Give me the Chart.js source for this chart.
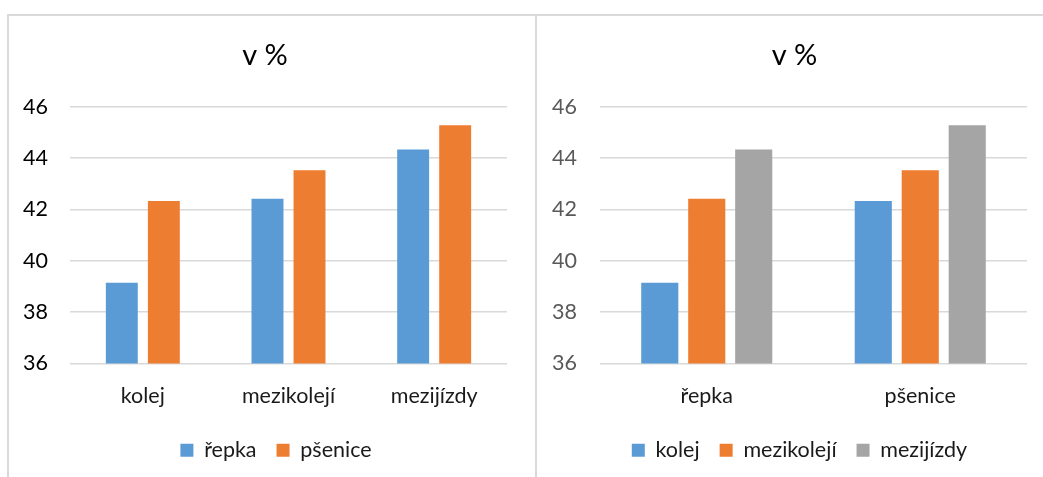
<!DOCTYPE html>
<html>
<head>
<meta charset="utf-8">
<script src="https://cdn.jsdelivr.net/npm/chart.js@4/dist/chart.umd.min.js"></script>
<style>
  html, body { margin: 0; padding: 0; background: #fff; }
  body { width: 1043px; height: 477px; position: relative; overflow: hidden; }
  .panel { position: absolute; box-sizing: border-box; border-color: #d9d9d9; border-style: solid; }
  #leftPanel { left: 7px; top: 14px; width: 530px; height: 480px; border-width: 2px 2px 0 2px; }
  #rightPanel { left: 537px; top: 14px; width: 520px; height: 480px; border-width: 2px 0 0 0; }
  .wrap { position: absolute; }
  #leftWrap { left: 9px; top: 16px; width: 526px; height: 461px; }
  #rightWrap { left: 537px; top: 16px; width: 506px; height: 461px; }
</style>
</head>
<body>
<div class="panel" id="leftPanel"></div>
<div class="panel" id="rightPanel"></div>
<div class="wrap" id="leftWrap"><canvas id="byZone"></canvas></div>
<div class="wrap" id="rightWrap"><canvas id="byCrop"></canvas></div>
<script>
// Podíl v % podle plochy a plodiny
const zones = ['kolej', 'mezikolejí', 'mezijízdy'];
const crops = ['řepka', 'pšenice'];
const repka = [39.15, 42.42, 44.34];     // řepka: kolej, mezikolejí, mezijízdy
const psenice = [42.33, 43.53, 45.28];   // pšenice: kolej, mezikolejí, mezijízdy
const yTicks = [36, 38, 40, 42, 44, 46];
const titleText = 'v %';

const BLUE = '#5B9BD5', ORANGE = '#ED7D31', GREY = '#A5A5A5';
const FONT = "Lato, 'Open Sans', sans-serif";
const LABEL_SIZE = 21.5;

// Nudges the title and legend blocks sideways after layout,
// so they sit centred over the whole chart frame rather than the padded box.
const blockShift = {
  id: 'blockShift',
  afterLayout(chart, args, opts) {
    const t = chart.titleBlock;
    if (t && opts.title) { t.left += opts.title; t.right += opts.title; }
    const l = chart.legend;
    if (l && opts.legend) { l.left += opts.legend; l.right += opts.legend; }
  }
};

function baseOptions(opts) {
  return {
    responsive: true,
    maintainAspectRatio: false,
    animation: false,
    layout: { padding: opts.padding },
    plugins: {
      blockShift: opts.shift,
      title: {
        display: true,
        text: titleText,
        color: '#000',
        font: { family: FONT, size: 29, weight: 'normal' },
        padding: { top: 22, bottom: 34 }
      },
      legend: {
        display: true,
        position: 'bottom',
        labels: {
          boxWidth: 13, boxHeight: 13, color: '#1a1a1a',
          padding: 20,
          font: { family: FONT, size: LABEL_SIZE }
        }
      },
      tooltip: { enabled: false }
    },
    scales: {
      x: {
        grid: { display: false, drawTicks: false },
        border: { display: false },
        ticks: { color: '#1a1a1a', padding: 20, font: { family: FONT, size: LABEL_SIZE } },
        afterFit: s => { s.height = 56; }
      },
      y: {
        min: yTicks[0], max: yTicks[yTicks.length - 1],
        afterBuildTicks: s => { s.ticks = yTicks.map(v => ({ value: v })); },
        grid: { color: '#d9d9d9', lineWidth: 1.5, drawTicks: false },
        border: { display: false },
        ticks: { color: opts.yColor, padding: opts.yPad, font: { family: FONT, size: LABEL_SIZE } },
        afterFit: s => { s.width = opts.yWidth; }
      }
    }
  };
}

new Chart(document.getElementById('byZone'), {
  type: 'bar',
  plugins: [blockShift],
  data: {
    labels: zones,
    datasets: [
      { label: crops[0], data: repka, backgroundColor: BLUE, categoryPercentage: 0.577, barPercentage: 0.76 },
      { label: crops[1], data: psenice, backgroundColor: ORANGE, categoryPercentage: 0.577, barPercentage: 0.76 }
    ]
  },
  options: baseOptions({
    padding: { left: 14, right: 28, top: 0, bottom: 6 },
    shift: { title: 0, legend: 11 },
    yColor: '#000', yPad: 22, yWidth: 47
  })
});

new Chart(document.getElementById('byCrop'), {
  type: 'bar',
  plugins: [blockShift],
  data: {
    labels: crops,
    datasets: [
      { label: zones[0], data: [repka[0], psenice[0]], backgroundColor: BLUE, categoryPercentage: 0.66, barPercentage: 0.79 },
      { label: zones[1], data: [repka[1], psenice[1]], backgroundColor: ORANGE, categoryPercentage: 0.66, barPercentage: 0.79 },
      { label: zones[2], data: [repka[2], psenice[2]], backgroundColor: GREY, categoryPercentage: 0.66, barPercentage: 0.79 }
    ]
  },
  options: baseOptions({
    padding: { left: 15, right: 16, top: 0, bottom: 6 },
    shift: { title: 5, legend: 10 },
    yColor: '#595959', yPad: 23, yWidth: 48
  })
});
</script>
</body>
</html>
